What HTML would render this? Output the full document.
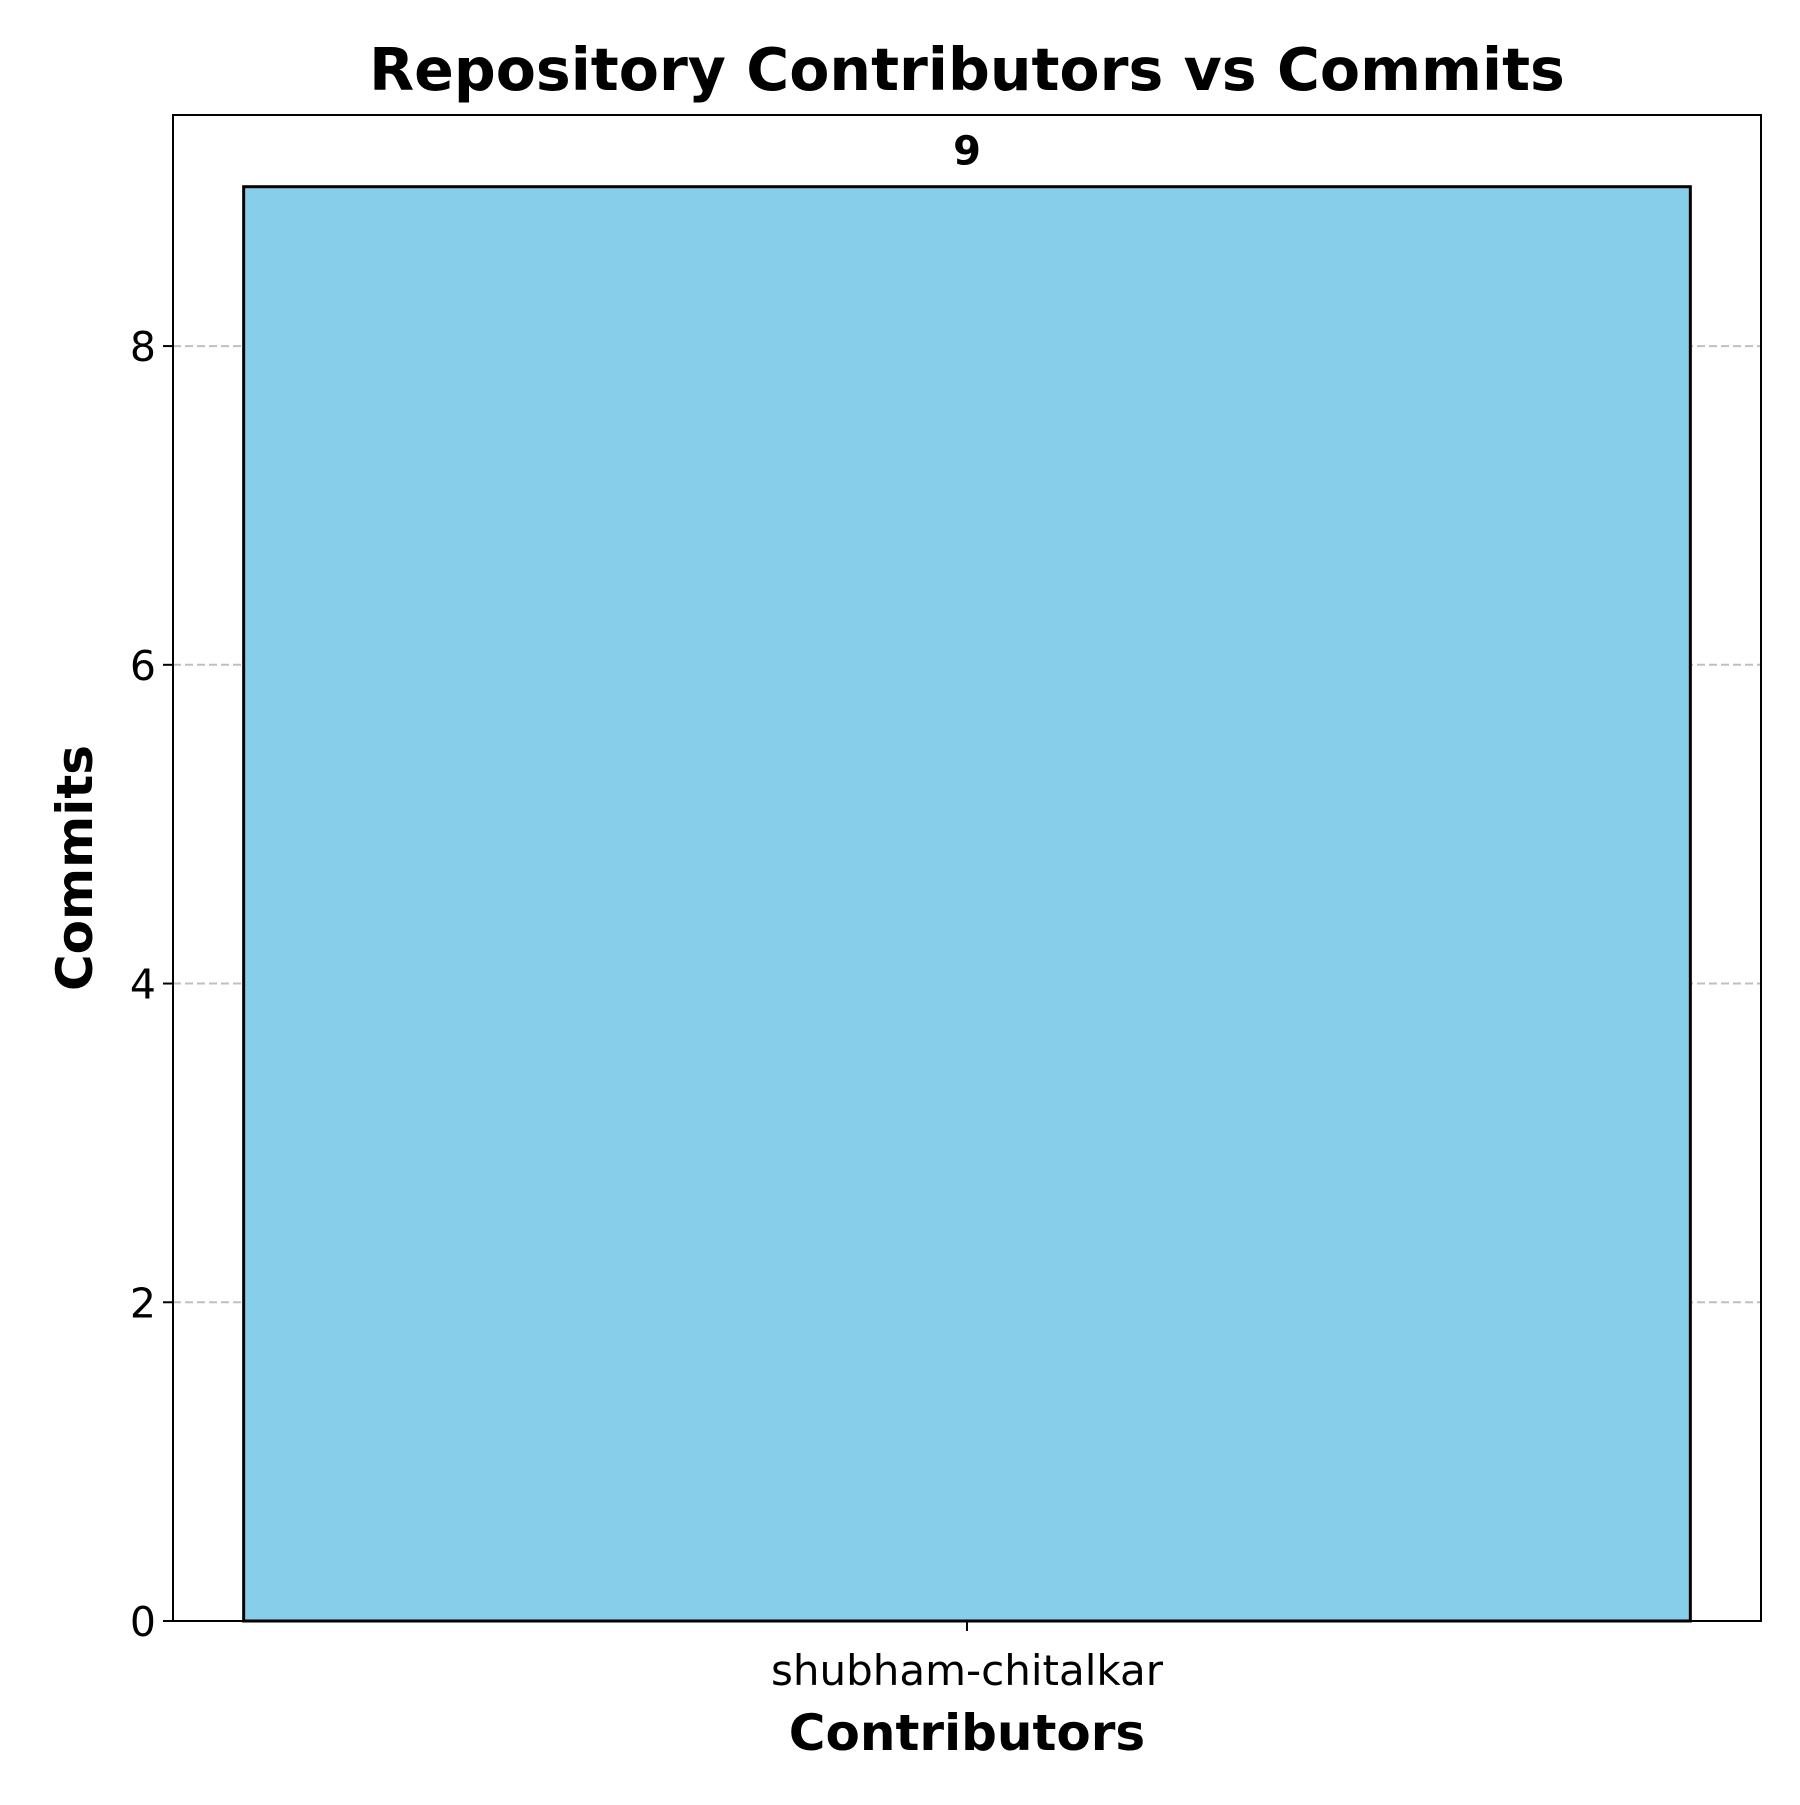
<!DOCTYPE html>
<html><head><meta charset="utf-8"><style>
html,body{margin:0;padding:0;background:#fff}
svg text{font-family:"DejaVu Sans","Liberation Sans",sans-serif}
</style></head><body>
<svg id="chart" width="1800" height="1800" viewBox="0 0 1800 1800" xmlns="http://www.w3.org/2000/svg">
<rect width="1800" height="1800" fill="#fff"/>
<text x="967" y="90" font-size="58.5" font-weight="bold" text-anchor="middle">Repository Contributors vs Commits</text>
<g id="grid"></g>
<g id="bars"></g>
<g id="axes"></g>
<text x="967" y="1750" font-size="50" font-weight="bold" text-anchor="middle">Contributors</text>
<text transform="translate(92,868) rotate(-90)" font-size="50" font-weight="bold" text-anchor="middle">Commits</text>
</svg>
<script>
const categories = ["shubham-chitalkar"];
const commits = [9];
const yTicks = [0, 2, 4, 6, 8];

const L = 173, R = 1761, T = 115, B = 1621, yMax = 9.45;
const NS = "http://www.w3.org/2000/svg";
function y(v){ return B - v / yMax * (B - T); }
function xBand(i){ const w = (R - L) / categories.length; return L + w * i + w / 2; }
const barW = (R - L) / categories.length * 0.911;
function mk(tag, attrs, parent){ const e = document.createElementNS(NS, tag); for (const k in attrs) e.setAttribute(k, attrs[k]); parent.appendChild(e); return e; }
const grid = document.getElementById('grid'), bars = document.getElementById('bars'), axes = document.getElementById('axes');

yTicks.forEach(t => {
  if (t > 0) {
    const g = mk('line', {x1: L, x2: R, y1: y(t), y2: y(t), stroke: '#b0b0b0', 'stroke-width': 2, 'stroke-dasharray': '8,4', opacity: 0.8}, grid);
    
    
  }
  const tk = mk('line', {x1: L - 10, x2: L, y1: y(t), y2: y(t), stroke: '#000', 'stroke-width': 2}, axes);
  
  
  const lb = mk('text', {x: L - 17, y: y(t) + 15, 'font-size': 41, 'text-anchor': 'end'}, axes);
  lb.textContent = t;
  
  
});

categories.forEach((c, i) => {
  const cx = xBand(i);
  const r = mk('rect', {x: cx - barW / 2, y: y(commits[i]), width: barW, height: B - y(commits[i]), fill: '#87ceeb', stroke: '#000', 'stroke-width': 3}, bars);
  
  
  const v = mk('text', {x: cx, y: y(commits[i]) - 22, 'font-size': 40, 'font-weight': 'bold', 'text-anchor': 'middle'}, bars);
  v.textContent = commits[i];
  
  
  const tk = mk('line', {x1: cx, x2: cx, y1: B, y2: B + 10, stroke: '#000', 'stroke-width': 2}, axes);
  
  
  const lb = mk('text', {x: cx, y: B + 64, 'font-size': 42, 'text-anchor': 'middle'}, axes);
  lb.textContent = c;
  
  
});

const fr = mk('rect', {x: L, y: T, width: R - L, height: B - T, fill: 'none', stroke: '#000', 'stroke-width': 2}, axes);


</script>
</body></html>
